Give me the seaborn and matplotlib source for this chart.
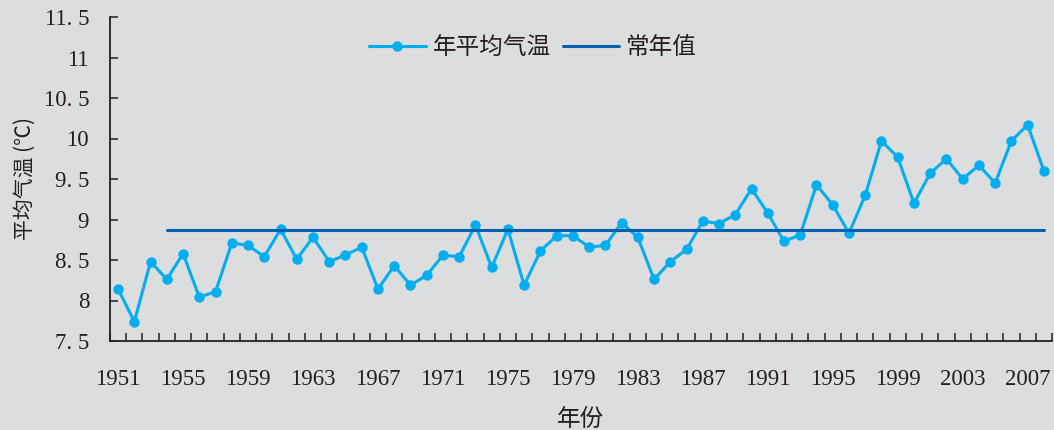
import pandas as pd
import matplotlib
matplotlib.use("Agg")
import matplotlib.pyplot as plt
import seaborn as sns
from matplotlib.ticker import FixedLocator, NullFormatter
from matplotlib.font_manager import FontProperties

# data
years = list(range(1951, 2009))
temps = [8.14, 7.74, 8.48, 8.26, 8.58, 8.04, 8.11, 8.71, 8.68, 8.54,
         8.88, 8.51, 8.78, 8.48, 8.56, 8.66, 8.14, 8.43, 8.19, 8.31,
         8.56, 8.54, 8.93, 8.41, 8.88, 8.19, 8.61, 8.80, 8.80, 8.66,
         8.68, 8.96, 8.78, 8.26, 8.48, 8.63, 8.98, 8.95, 9.06, 9.38,
         9.08, 8.73, 8.81, 9.43, 9.18, 8.83, 9.30, 9.97, 9.77, 9.20,
         9.57, 9.75, 9.50, 9.67, 9.45, 9.97, 10.17, 9.60]
normal_years = [1954, 2008]
normal_vals = [8.87, 8.87]

ytick_values = [7.5, 8, 8.5, 9, 9.5, 10, 10.5, 11, 11.5]
ytick_labels = ["7. 5", "8", "8. 5", "9", "9. 5", "10", "10. 5", "11", "11. 5"]
xtick_years = list(range(1951, 2008, 4))

bg = "#DCDDDF"
cyan = "#00AEEF"
navy = "#0062AE"
ink = "#231F20"

sns.set_theme(style="ticks")
plt.rcParams["font.family"] = ["Liberation Serif", "Noto Sans CJK SC", "DejaVu Sans"]

df = pd.DataFrame({"年份": years, "气温": temps})
df_normal = pd.DataFrame({"年份": normal_years, "气温": normal_vals})

fig = plt.figure(figsize=(10.54, 4.30), dpi=100, facecolor=bg)
ax = fig.add_axes([110 / 1054, 1 - 341 / 430, 942 / 1054, 324 / 430])
ax.set_facecolor(bg)

sns.lineplot(data=df, x="年份", y="气温", ax=ax, color=cyan, linewidth=2.2,
             marker="o", markersize=7.5, markeredgewidth=0, label="年平均气温")
sns.lineplot(data=df_normal, x="年份", y="气温", ax=ax, color=navy,
             linewidth=2.2, label="常年值")

ax.set_xlim(years[0] - 0.5, years[-1] + 0.5)
ax.set_ylim(ytick_values[0], ytick_values[-1])

for s in ["top", "right"]:
    ax.spines[s].set_visible(False)
for s in ["left", "bottom"]:
    ax.spines[s].set_color(ink)
    ax.spines[s].set_linewidth(1.3)

ax.set_yticks(ytick_values)
ax.set_yticklabels(ytick_labels)
ax.tick_params(axis="y", direction="in", length=6, width=1.1, color=ink,
               labelsize=16.5, labelcolor=ink, pad=15)

# year boundaries carry the tick marks, labels sit under the years
ax.set_xticks(xtick_years)
ax.set_xticklabels([str(y) for y in xtick_years])
ax.xaxis.set_minor_locator(FixedLocator([y - 0.5 for y in years] + [years[-1] + 0.5]))
ax.xaxis.set_minor_formatter(NullFormatter())
ax.tick_params(axis="x", which="major", length=0, labelsize=16.5,
               labelcolor=ink, pad=20)
ax.tick_params(axis="x", which="minor", direction="in", length=6, width=1.1,
               color=ink)

cjk = ["Noto Sans CJK SC", "DejaVu Sans"]
ax.set_xlabel("年份", fontsize=17, color=ink, family=cjk, labelpad=13)
ax.set_ylabel("平均气温 (℃)", fontsize=15, color=ink, family=cjk, labelpad=6)

ax.legend(loc="center", bbox_to_anchor=(533 / 1054, 1 - 48 / 430),
          bbox_transform=fig.transFigure, ncol=2, frameon=False,
          prop=FontProperties(family=cjk, size=17), labelcolor=ink,
          handlelength=2.4, handletextpad=0.3, columnspacing=0.5)

fig.savefig("out.png", dpi=100, facecolor=bg)
